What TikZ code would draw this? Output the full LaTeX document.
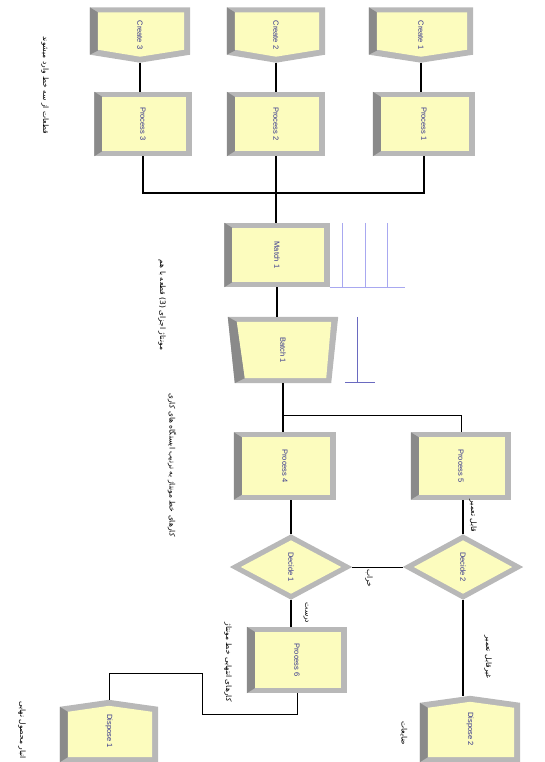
\documentclass[tikz,border=0pt]{standalone}
\usepackage{fontspec}
\setmainfont{Liberation Sans}
\newfontfamily\arabicfont[Script=Arabic]{DejaVu Sans}
\TeXXeTstate=1
\usetikzlibrary{backgrounds,calc}
\definecolor{modfill}{HTML}{FCFCBE}
\definecolor{bevlight}{HTML}{B8B8B8}
\definecolor{bevdark}{HTML}{8A8A8A}
\definecolor{modtext}{HTML}{33338C}
\definecolor{qlight}{HTML}{A8A8F0}
\definecolor{qdark}{HTML}{6A6AC0}
\tikzset{
  modbox/.style={rectangle, inner sep=0pt, font=\fontsize{7.5}{8}\selectfont, text=modtext},
  conn/.style={line width=1.2pt, black},
  hconn/.style={line width=0.9pt, black},
  lab/.style={rotate=-90, inner sep=0pt, font=\arabicfont\fontsize{7.5}{8}\selectfont},
  qline/.style={line width=0.9pt, qlight},
  qline2/.style={line width=1pt, qdark},
}
% rectangular module (Process, Match)
\newcommand{\boxmod}[6]{%
  \node[modbox, minimum width=#4pt, minimum height=#5pt] (#1) at (#2,#3) {\rotatebox{-90}{#6}};
  \begin{pgfonlayer}{background}
    \fill[bevlight] (#1.north west) rectangle (#1.south east);
    \fill[bevdark] (#1.north west) -- ([xshift=8pt,yshift=-5pt]#1.north west) -- ([xshift=8pt,yshift=5pt]#1.south west) -- (#1.south west) -- cycle;
    \fill[modfill] ([xshift=8pt,yshift=-5pt]#1.north west) rectangle ([xshift=-6pt,yshift=5pt]#1.south east);
  \end{pgfonlayer}
}
% Create module (pointing down)
\newcommand{\createmod}[6]{%
  \node[modbox, minimum width=#4pt, minimum height=#5pt] (#1) at (#2,#3) {\rotatebox{-90}{#6}};
  \begin{pgfonlayer}{background}
    \fill[bevlight] (#1.north west) -- (#1.north east) -- ([yshift=8pt]#1.south east) -- (#1.south) -- ([yshift=8pt]#1.south west) -- cycle;
    \fill[bevdark] (#1.north west) -- ([xshift=8pt,yshift=-5pt]#1.north west) -- ([xshift=8pt,yshift=12pt]#1.south west) -- ([yshift=8pt]#1.south west) -- cycle;
    \fill[modfill] ([xshift=8pt,yshift=-5pt]#1.north west) -- ([xshift=-6pt,yshift=-5pt]#1.north east) -- ([xshift=-6pt,yshift=13pt]#1.south east) -- ([yshift=6pt]#1.south) -- ([xshift=8pt,yshift=13pt]#1.south west) -- cycle;
  \end{pgfonlayer}
}
% Dispose module (pointing up)
\newcommand{\disposemod}[6]{%
  \node[modbox, minimum width=#4pt, minimum height=#5pt] (#1) at (#2,#3) {\rotatebox{-90}{#6}};
  \begin{pgfonlayer}{background}
    \fill[bevlight] ([yshift=-7pt]#1.north west) -- (#1.north) -- ([yshift=-7pt]#1.north east) -- (#1.south east) -- (#1.south west) -- cycle;
    \fill[bevdark] ([yshift=-7pt]#1.north west) -- ([xshift=8pt,yshift=-12pt]#1.north west) -- ([xshift=8pt,yshift=5pt]#1.south west) -- (#1.south west) -- cycle;
    \fill[modfill] ([xshift=8pt,yshift=-12pt]#1.north west) -- ([yshift=-6pt]#1.north) -- ([xshift=-6pt,yshift=-12pt]#1.north east) -- ([xshift=-6pt,yshift=5pt]#1.south east) -- ([xshift=8pt,yshift=5pt]#1.south west) -- cycle;
  \end{pgfonlayer}
}
% Batch module (trapezoid)
\newcommand{\batchmod}[6]{%
  \node[modbox, minimum width=#4pt, minimum height=#5pt] (#1) at (#2,#3) {\rotatebox{-90}{#6}};
  \begin{pgfonlayer}{background}
    \fill[bevlight] (#1.north west) -- (#1.north east) -- ([xshift=-7pt]#1.south east) -- ([xshift=7pt]#1.south west) -- cycle;
    \fill[bevdark] (#1.north west) -- ([xshift=9pt,yshift=-5pt]#1.north west) -- ([xshift=17pt,yshift=5pt]#1.south west) -- ([xshift=7pt]#1.south west) -- cycle;
    \fill[modfill] ([xshift=9pt,yshift=-5pt]#1.north west) -- ([xshift=-7pt,yshift=-5pt]#1.north east) -- ([xshift=-12pt,yshift=5pt]#1.south east) -- ([xshift=17pt,yshift=5pt]#1.south west) -- cycle;
  \end{pgfonlayer}
}
% Decide module (diamond)
\newcommand{\decidemod}[6]{%
  \node[modbox, minimum width=#4pt, minimum height=#5pt] (#1) at (#2,#3) {\rotatebox{-90}{#6}};
  \begin{pgfonlayer}{background}
    \fill[bevlight] (#1.north) -- (#1.east) -- (#1.south) -- (#1.west) -- cycle;
    \fill[modfill] ([yshift=-6pt]#1.north) -- ([xshift=-11pt]#1.east) -- ([yshift=6pt]#1.south) -- ([xshift=11pt]#1.west) -- cycle;
  \end{pgfonlayer}
}
\begin{document}
\begin{tikzpicture}[x=1pt,y=-1pt]
\useasboundingbox (0,0) rectangle (544,762);

% modules
\createmod{c3}{140}{35}{100}{55}{Create 3}
\createmod{c2}{276}{35}{98}{55}{Create 2}
\createmod{c1}{421}{35}{104}{55}{Create 1}
\boxmod{p3}{143}{124}{97}{64}{Process 3}
\boxmod{p2}{276}{124}{98}{64}{Process 2}
\boxmod{p1}{424}{124}{102}{64}{Process 1}
\boxmod{m1}{277}{255}{105}{64}{Match 1}
\batchmod{b1}{283}{350}{110}{66}{Batch 1}
\boxmod{p4}{285}{466}{102}{67}{Process 4}
\boxmod{p5}{461}{466}{100}{67}{Process 5}
\decidemod{d1}{291}{567}{122}{65}{Decide 1}
\decidemod{d2}{463}{567}{120}{65}{Decide 2}
\boxmod{p6}{297}{660}{100}{66}{Process 6}
\disposemod{ds1}{109}{731}{98}{62}{Dispose 1}
\disposemod{ds2}{470}{729}{100}{66}{Dispose 2}

% queues
\draw[qline] ([xshift=13pt]m1.north east) -- ([xshift=13pt]m1.south east);
\draw[qline] ([xshift=36pt]m1.north east) -- ([xshift=36pt]m1.south east);
\draw[qline] ([xshift=58pt]m1.north east) -- ([xshift=58pt]m1.south east);
\draw[qline] (m1.south east) -- ([xshift=75pt]m1.south east);
\draw[qline2] ([xshift=19pt]b1.north east) -- ([xshift=19pt,yshift=1pt]b1.south east);
\draw[qline2] ([xshift=7pt,yshift=1pt]b1.south east) -- ([xshift=37pt,yshift=1pt]b1.south east);

% connectors
\coordinate (j1) at (276,193);
\coordinate (j2) at (283,415);
\coordinate (k1) at (202,714);
\coordinate (k2) at (202,673);
\draw[conn] (c3.south) -- (c3.south |- p3.north);
\draw[conn] (c2.south) -- (c2.south |- p2.north);
\draw[conn] (c1.south) -- (c1.south |- p1.north);
\draw[conn] (p3.south) |- (j1) -| (p1.south);
\draw[conn] (p2.south) -- (p2.south |- m1.north);
\draw[conn] (m1.south) -- (m1.south |- b1.north);
\draw[conn] (b1.south) -- (b1.south |- p4.north);
\draw[hconn] (j2) -| (p5.north);
\draw[conn] (d1.north) -- (d1.north |- p4.south);
\draw[conn] (d2.north) -- (d2.north |- p5.south);
\draw[hconn] (d1.east) -- (d2.west);
\draw[conn] (d1.south) -- (d1.south |- p6.north);
\draw[conn] (d2.south) -- (d2.south |- ds2.north);
\draw[hconn] (p6.south) |- (k1) -- (k2) -| (ds1.north);

% labels
\node[lab] (t1) at (45,85) {\beginR قطعات از سه خط وارد میشوند\endR};
\node[lab] (t2) at (162,305) {\beginR مونتاژ اجزای \beginL(3)\endL{} قطعه با هم\endR};
\node[lab] (t3) at (172,465) {\beginR کارهای خط مونتاژ به ترتیب ایستگاه های کاری\endR};
\node[lab] (t4) at (473,516) {\beginR قابل تعمیر\endR};
\node[lab] (t5) at (369,578) {\beginR خراب\endR};
\node[lab] (t6) at (306,613) {\beginR درست\endR};
\node[lab] (t7) at (228,662) {\beginR کارهای انتهایی خط مونتاژ\endR};
\node[lab] (t8) at (22,730) {\beginR انبار محصول نهایی\endR};
\node[lab] (t9) at (488,657) {\beginR غیرقابل تعمیر\endR};
\node[lab] (t10) at (404,733) {\beginR ضایعات\endR};
\end{tikzpicture}
\end{document}
